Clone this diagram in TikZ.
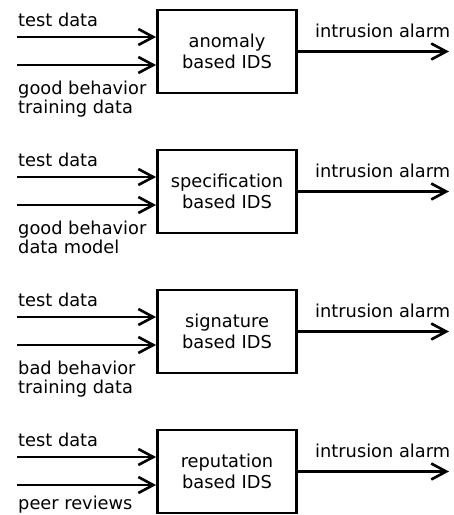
\documentclass[tikz,border=0pt]{standalone}
\usepackage{fontspec}
\setmainfont{DejaVu Sans}
\usetikzlibrary{arrows.meta}
\begin{document}
\begin{tikzpicture}[x=1pt,y=-1pt,
  every node/.style={font=\fontsize{17.8}{21.3}\selectfont, inner sep=0pt},
  idsbox/.style={draw, line width=2.8pt, minimum width=139pt, minimum height=83pt, align=center},
  lbl/.style={anchor=base west},
  flow/.style={line width=2.6pt, -{Straight Barb[length=15pt,width=16pt,line width=2.6pt]}}]
\useasboundingbox (0,0) rectangle (454,515);
% four detector kinds, stacked 140pt apart; \ya is the baseline of the first source line
\foreach \i/\kind/\ta/\tb/\ya in {0/anomaly/good behavior/training data/94,
                                  1/specification/good behavior/data model/94,
                                  2/signature/bad behavior/training data/94,
                                  3/reputation/peer reviews//89} {
  \begin{scope}[yshift=-140*\i pt]
    \node[idsbox] (box\i) at (227,51.5) {\kind\\based IDS};
    \coordinate (inA\i) at (17,37);
    \coordinate (inB\i) at (17,65);
    \coordinate (out\i) at (449,51.5);
    \draw[flow] (inA\i) -- (inA\i -| box\i.west);
    \draw[flow] (inB\i) -- (inB\i -| box\i.west);
    \draw[flow] (box\i.east |- out\i) -- (out\i);
    \node[lbl] (test\i) at (18,26) {test data};
    \node[lbl] (srcA\i) at (18,\ya) {\ta};
    \node[lbl] (srcB\i) at (18,\ya+19) {\tb};
    \node[lbl] (alarm\i) at (315,37) {intrusion alarm};
  \end{scope}
}
\end{tikzpicture}
\end{document}
